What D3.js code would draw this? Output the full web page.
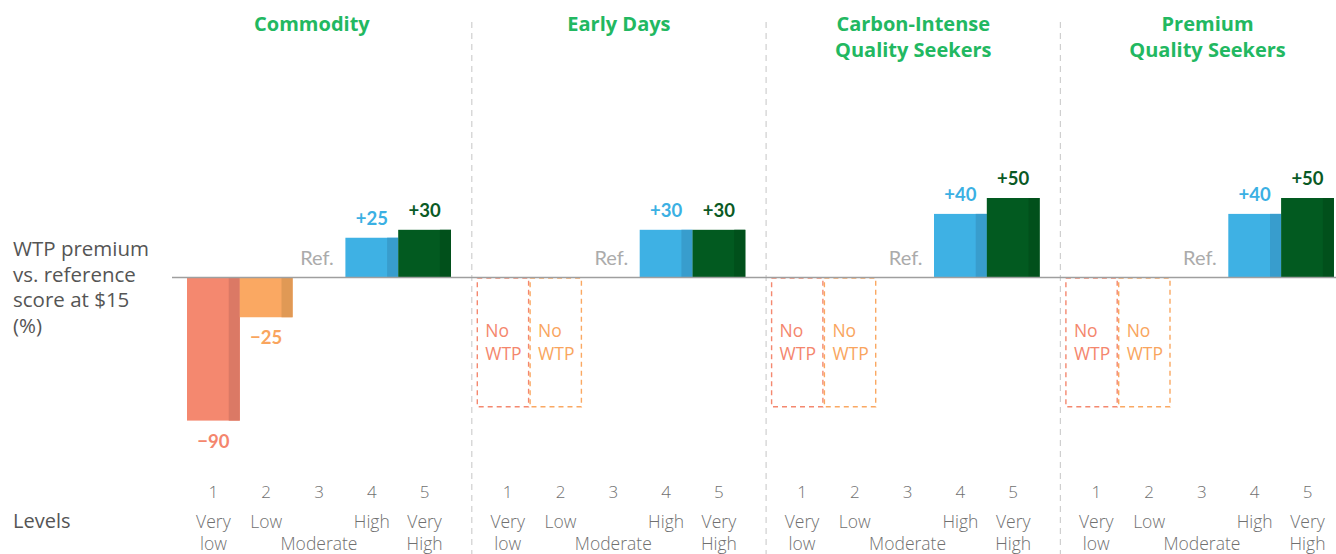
<!DOCTYPE html>
<html>
<head>
<meta charset="utf-8">
<script src="https://cdn.jsdelivr.net/npm/d3@7"></script>
<style>
  html, body { margin: 0; padding: 0; background: #fff; }
  svg { display: block; }
</style>
</head>
<body>
<svg id="chart" width="1336" height="554"></svg>
<script>
// ---------------- DATA ----------------
const panelTitles = [["Commodity"], ["Early Days"], ["Carbon-Intense", "Quality Seekers"], ["Premium", "Quality Seekers"]];
const levels = [1, 2, 3, 4, 5];
const levelLabels = [["Very", "low"], ["Low", ""], ["", "Moderate"], ["High", ""], ["Very", "High"]];
const veryLowValues = [-90, null, null, null];
const lowValues = [-25, null, null, null];
const highValues = [25, 30, 40, 40];
const veryHighValues = [30, 30, 50, 50];
const noWtpDepth = -81;
const yAxisLabel = ["WTP premium", "vs. reference", "score at $15", "(%)"];
const refLabel = "Ref.";
const levelsTitle = "Levels";

// ---------------- STYLE ----------------
const colors = {
  1: { bar: "#F4886F", dark: "#DB7965", text: "#F4866D" },
  2: { bar: "#FAA862", dark: "#E09955", text: "#F9A55E" },
  4: { bar: "#3EB1E4", dark: "#389DCD", text: "#3BB0E3" },
  5: { bar: "#025A20", dark: "#01501B", text: "#0A5A25" }
};
const titleColor = "#22B861";
const sans = "'Open Sans', 'Noto Sans', sans-serif";
const lato = "Lato, 'Open Sans', sans-serif";

const svg = d3.select("#chart");

const y = d3.scaleLinear().domain([-100, 60]).range([436.5, 182.1]);
const panelX = d3.scaleLinear().domain([0, 4]).range([187, 187 + 4 * 294.3]);
const x = d3.scaleBand().domain(levels).range([0, 264]).padding(0);
const bw = x.bandwidth();
const dividerX = i => panelX(i) - 9.5;

// Dividers
svg.append("g").selectAll("line")
  .data(d3.range(1, 4))
  .join("line")
  .attr("x1", dividerX).attr("x2", dividerX)
  .attr("y1", 22).attr("y2", 554)
  .attr("stroke", "#cfcfcf").attr("stroke-width", 1.2)
  .attr("stroke-dasharray", "6,5");

// Y-axis label
svg.append("text")
  .attr("x", 13).attr("y", 256)
  .attr("font-family", sans).attr("font-size", 20.5).attr("fill", "#555")
  .selectAll("tspan").data(yAxisLabel).join("tspan")
  .attr("x", 13).attr("dy", (d, i) => i === 0 ? 0 : 25.7)
  .text(d => d);

// Levels label
svg.append("text")
  .attr("x", 13).attr("y", 528)
  .attr("font-family", sans).attr("font-size", 20).attr("fill", "#555")
  .text(levelsTitle);

const seriesByLevel = { 1: veryLowValues, 2: lowValues, 4: highValues, 5: veryHighValues };

panelTitles.forEach((title, p) => {
  // Title, centred in the region between dividers
  const left = p === 0 ? panelX(0) - 35 : dividerX(p);
  const right = dividerX(p + 1);
  svg.append("text")
    .attr("y", 31)
    .attr("text-anchor", "middle")
    .attr("font-family", sans).attr("font-weight", 700).attr("font-size", 20)
    .attr("fill", titleColor)
    .selectAll("tspan").data(title).join("tspan")
    .attr("x", (left + right) / 2).attr("dy", (d, i) => i === 0 ? 0 : 26)
    .text(d => d);

  const g = svg.append("g").attr("transform", `translate(${panelX(p)},0)`);

  // Bars
  const barData = [1, 2, 4, 5]
    .map(l => ({ level: l, value: seriesByLevel[l][p] }))
    .filter(d => d.value !== null);

  const bars = g.append("g").selectAll("g").data(barData).join("g");
  bars.append("rect")
    .attr("x", d => x(d.level))
    .attr("y", d => Math.min(y(d.value), y(0)))
    .attr("width", bw)
    .attr("height", d => Math.abs(y(d.value) - y(0)))
    .attr("fill", d => colors[d.level].bar);
  bars.append("rect")
    .attr("x", d => x(d.level) + bw * 0.79)
    .attr("y", d => Math.min(y(d.value), y(0)))
    .attr("width", bw * 0.21)
    .attr("height", d => Math.abs(y(d.value) - y(0)))
    .attr("fill", d => colors[d.level].dark);
  bars.append("text")
    .attr("x", d => x(d.level) + bw / 2)
    .attr("y", d => d.value >= 0 ? y(d.value) - 13 : y(d.value) + 27)
    .attr("text-anchor", "middle")
    .attr("font-family", lato).attr("font-weight", 700).attr("font-size", 18.5)
    .attr("fill", d => colors[d.level].text)
    .text(d => (d.value > 0 ? "+" : "\u2212") + Math.abs(d.value));

  // No WTP boxes
  const noData = [1, 2].filter(l => seriesByLevel[l][p] === null);
  const boxes = g.append("g").selectAll("g").data(noData).join("g");
  boxes.append("rect")
    .attr("x", l => x(l) - 4)
    .attr("y", y(0) + 0.5)
    .attr("width", bw - 1.5)
    .attr("height", y(noWtpDepth) - y(0))
    .attr("fill", "none")
    .attr("stroke", l => colors[l].bar)
    .attr("stroke-width", 1.4)
    .attr("stroke-dasharray", "5,4");
  boxes.append("text")
    .attr("x", l => x(l) + 4)
    .attr("y", 337)
    .attr("font-family", sans).attr("font-size", 17.5).attr("fill", l => colors[l].text)
    .selectAll("tspan").data(["No", "WTP"]).join("tspan")
    .attr("x", function () { return d3.select(this.parentNode).attr("x"); })
    .attr("dy", (d, i) => i === 0 ? 0 : 23)
    .text(d => d);

  // Ref label
  g.append("text")
    .attr("x", x(3) + bw / 2 - 2).attr("y", 265)
    .attr("text-anchor", "middle")
    .attr("font-family", lato).attr("font-size", 20).attr("fill", "#ababab")
    .text(refLabel);

  // Level numbers
  g.append("g").selectAll("text").data(levels).join("text")
    .attr("x", l => x(l) + bw / 2).attr("y", 498)
    .attr("text-anchor", "middle")
    .attr("font-family", sans).attr("font-weight", 300).attr("font-size", 17).attr("fill", "#707070")
    .text(l => l);

  // Level labels
  g.append("g").selectAll("text").data(levels).join("text")
    .attr("text-anchor", "middle")
    .attr("font-family", sans).attr("font-weight", 300).attr("font-size", 17.5).attr("fill", "#707070")
    .attr("y", 528)
    .selectAll("tspan").data((l, i) => levelLabels[i].map(t => ({ t, l }))).join("tspan")
    .attr("x", d => x(d.l) + bw / 2)
    .attr("y", (d, i) => i === 0 ? 528 : 550)
    .text(d => d.t);
});

// Baseline
svg.append("line")
  .attr("x1", 172).attr("x2", 1336)
  .attr("y1", y(0)).attr("y2", y(0))
  .attr("stroke", "#9f9f9f").attr("stroke-width", 1.6);
</script>
</body>
</html>
